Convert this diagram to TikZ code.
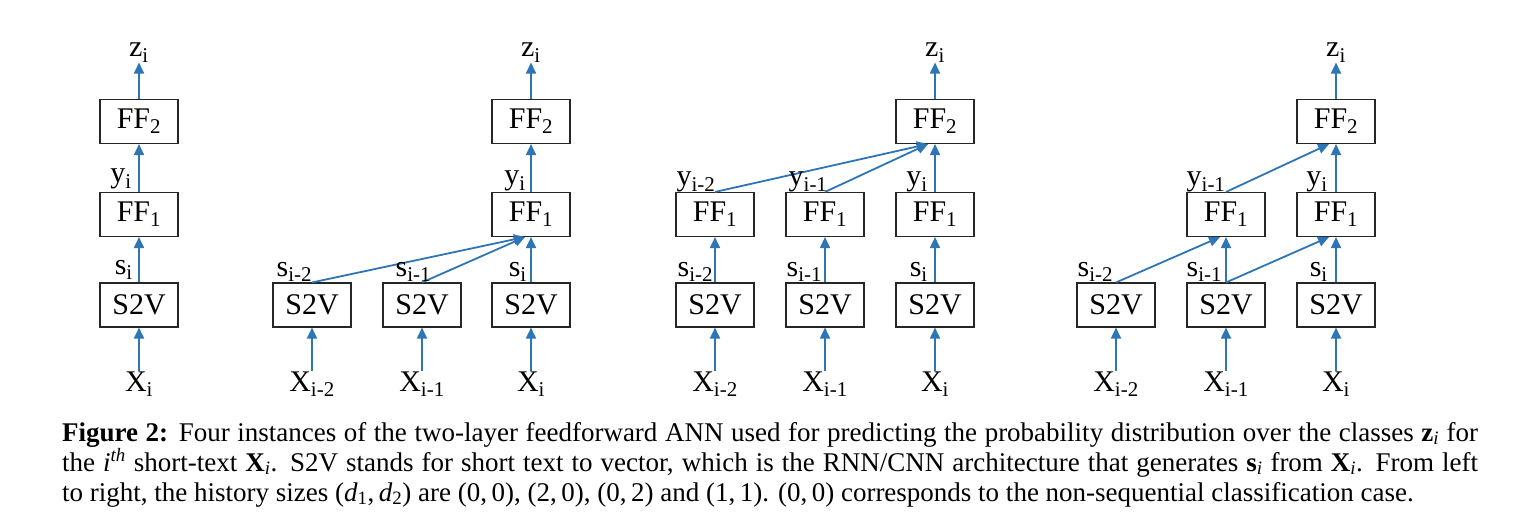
\documentclass[tikz,border=0pt]{standalone}
\usepackage{fontspec}
\setmainfont{Liberation Serif}
\usetikzlibrary{arrows.meta}
\definecolor{arrblue}{RGB}{46,117,182}
\newcommand{\mi}[1]{\textit{#1}}
\begin{document}
\begin{tikzpicture}[x=1pt,y=-1pt,
  box/.style={draw=black!85, line width=1.1pt, minimum width=78pt, minimum height=44pt, inner sep=0pt, font=\fontsize{30}{34}\selectfont},
  lab/.style={inner sep=0pt, font=\fontsize{30}{34}\selectfont},
  arr/.style={draw=arrblue, line width=1.8pt, -{Triangle[length=11pt,width=10pt]}},
  capt/.style={inner sep=0pt, anchor=base west, text width=1416pt, align=justify, font=\fontsize{27}{30}\selectfont}
]
\useasboundingbox (0,0) rectangle (1514,526);
% ---------- column 1 ----------
\node[box] (a1) at (139,305) {S2V};
\node[box] (a1f) at (139,214.5) {FF\textsubscript{1}};
\node[box] (a1g) at (139,121.5) {FF\textsubscript{2}};
\node[lab, anchor=base] (ax1) at (139,391) {X\textsubscript{i}};
\node[lab, anchor=base] (az) at (139,57) {z\textsubscript{i}};
\draw[arr] (ax1.north) -- (a1.south);
\draw[arr] (a1.north) -- (a1f.south);
\draw[arr] (a1f.north) -- (a1g.south);
\draw[arr] (a1g.north) -- (az.south);
\node[lab, anchor=base east] (as1) at ([xshift=-6pt,yshift=8pt]a1.north) {s\textsubscript{i}};
\node[lab, anchor=base east] (ay1) at ([xshift=-7pt,yshift=9pt]a1f.north) {y\textsubscript{i}};
% ---------- column 2 ----------
\node[box] (b1) at (312,305) {S2V};
\node[box] (b2) at (422,305) {S2V};
\node[box] (b3) at (531,305) {S2V};
\node[box] (b3f) at (531,214.5) {FF\textsubscript{1}};
\node[box] (b3g) at (531,121.5) {FF\textsubscript{2}};
\node[lab, anchor=base] (bx1) at (312,391) {X\textsubscript{i-2}};
\node[lab, anchor=base] (bx2) at (422,391) {X\textsubscript{i-1}};
\node[lab, anchor=base] (bx3) at (531,391) {X\textsubscript{i}};
\node[lab, anchor=base] (bz) at (531,57) {z\textsubscript{i}};
\coordinate (bm) at ([xshift=-6pt]b3f.south);
\draw[arr] (bx1.north) -- (b1.south);
\draw[arr] (bx2.north) -- (b2.south);
\draw[arr] (bx3.north) -- (b3.south);
\draw[arr] (b1.north) -- (bm);
\draw[arr] (b2.north) -- (bm);
\draw[arr] (b3.north) -- (b3f.south);
\draw[arr] (b3f.north) -- (b3g.south);
\draw[arr] (b3g.north) -- (bz.south);
\node[lab, anchor=base west] (bs1) at ([xshift=4pt,yshift=6pt]b1.north west) {s\textsubscript{i-2}};
\node[lab, anchor=base west] (bs2) at ([xshift=13pt,yshift=6pt]b2.north west) {s\textsubscript{i-1}};
\node[lab, anchor=base east] (bs3) at ([xshift=-4pt,yshift=6pt]b3.north) {s\textsubscript{i}};
\node[lab, anchor=base east] (by3) at ([xshift=-5pt,yshift=7pt]b3f.north) {y\textsubscript{i}};
% ---------- column 3 ----------
\node[box] (c1) at (715,305) {S2V};
\node[box] (c2) at (825,305) {S2V};
\node[box] (c3) at (935,305) {S2V};
\node[box] (c1f) at (715,214.5) {FF\textsubscript{1}};
\node[box] (c2f) at (825,214.5) {FF\textsubscript{1}};
\node[box] (c3f) at (935,214.5) {FF\textsubscript{1}};
\node[box] (c3g) at (935,121.5) {FF\textsubscript{2}};
\node[lab, anchor=base] (cx1) at (715,391) {X\textsubscript{i-2}};
\node[lab, anchor=base] (cx2) at (825,391) {X\textsubscript{i-1}};
\node[lab, anchor=base] (cx3) at (935,391) {X\textsubscript{i}};
\node[lab, anchor=base] (cz) at (935,57) {z\textsubscript{i}};
\coordinate (cm) at ([xshift=-7pt]c3g.south);
\draw[arr] (cx1.north) -- (c1.south);
\draw[arr] (cx2.north) -- (c2.south);
\draw[arr] (cx3.north) -- (c3.south);
\draw[arr] (c1.north) -- (c1f.south);
\draw[arr] (c2.north) -- (c2f.south);
\draw[arr] (c3.north) -- (c3f.south);
\draw[arr] (c1f.north) -- (cm);
\draw[arr] (c2f.north) -- (cm);
\draw[arr] (c3f.north) -- (c3g.south);
\draw[arr] (c3g.north) -- (cz.south);
\node[lab, anchor=base west] (cs1) at ([xshift=2pt,yshift=6pt]c1.north west) {s\textsubscript{i-2}};
\node[lab, anchor=base west] (cs2) at ([xshift=1pt,yshift=6pt]c2.north west) {s\textsubscript{i-1}};
\node[lab, anchor=base east] (cs3) at ([xshift=-7pt,yshift=6pt]c3.north) {s\textsubscript{i}};
\node[lab, anchor=base west] (cy1) at ([xshift=1pt,yshift=6pt]c1f.north west) {y\textsubscript{i-2}};
\node[lab, anchor=base west] (cy2) at ([xshift=3pt,yshift=6pt]c2f.north west) {y\textsubscript{i-1}};
\node[lab, anchor=base east] (cy3) at ([xshift=-7pt,yshift=6pt]c3f.north) {y\textsubscript{i}};
% ---------- column 4 ----------
\node[box] (d1) at (1116,305) {S2V};
\node[box] (d2) at (1226,305) {S2V};
\node[box] (d3) at (1336,305) {S2V};
\node[box] (d2f) at (1226,214.5) {FF\textsubscript{1}};
\node[box] (d3f) at (1336,214.5) {FF\textsubscript{1}};
\node[box] (d3g) at (1336,121.5) {FF\textsubscript{2}};
\node[lab, anchor=base] (dx1) at (1116,391) {X\textsubscript{i-2}};
\node[lab, anchor=base] (dx2) at (1226,391) {X\textsubscript{i-1}};
\node[lab, anchor=base] (dx3) at (1336,391) {X\textsubscript{i}};
\node[lab, anchor=base] (dz) at (1336,57) {z\textsubscript{i}};
\coordinate (dm2) at ([xshift=-6pt]d2f.south);
\coordinate (dm3) at ([xshift=-7pt]d3f.south);
\coordinate (dmg) at ([xshift=-7pt]d3g.south);
\draw[arr] (dx1.north) -- (d1.south);
\draw[arr] (dx2.north) -- (d2.south);
\draw[arr] (dx3.north) -- (d3.south);
\draw[arr] (d1.north) -- (dm2);
\draw[arr] (d2.north) -- (d2f.south);
\draw[arr] (d2.north) -- (dm3);
\draw[arr] (d3.north) -- (d3f.south);
\draw[arr] (d2f.north) -- (dmg);
\draw[arr] (d3f.north) -- (d3g.south);
\draw[arr] (d3g.north) -- (dz.south);
\node[lab, anchor=base west] (ds1) at ([xshift=1pt,yshift=6pt]d1.north west) {s\textsubscript{i-2}};
\node[lab, anchor=base west] (ds2) at ([xshift=0pt,yshift=6pt]d2.north west) {s\textsubscript{i-1}};
\node[lab, anchor=base east] (ds3) at ([xshift=-8pt,yshift=6pt]d3.north) {s\textsubscript{i}};
\node[lab, anchor=base west] (dy2) at ([xshift=0pt,yshift=6pt]d2f.north west) {y\textsubscript{i-1}};
\node[lab, anchor=base east] (dy3) at ([xshift=-8pt,yshift=6pt]d3f.north) {y\textsubscript{i}};
% ---------- caption ----------
\node[capt] (cap) at (62,441) {\textbf{Figure 2:} Four instances of the two-layer feedforward ANN used for predicting the probability distribution over the classes \textbf{z}\textsubscript{\mi{i}} for\linebreak
the \mi{i}\textsuperscript{\mi{th}} short-text \textbf{X}\textsubscript{\mi{i}}. S2V stands for short text to vector, which is the RNN/CNN architecture that generates \textbf{s}\textsubscript{\mi{i}} from \textbf{X}\textsubscript{\mi{i}}. From left\linebreak
to right, the history sizes (\mi{d}\textsubscript{1},\,\mi{d}\textsubscript{2}) are (0,\,0), (2,\,0), (0,\,2) and (1,\,1). (0,\,0) corresponds to the non-sequential classification case.};
\end{tikzpicture}
\end{document}
